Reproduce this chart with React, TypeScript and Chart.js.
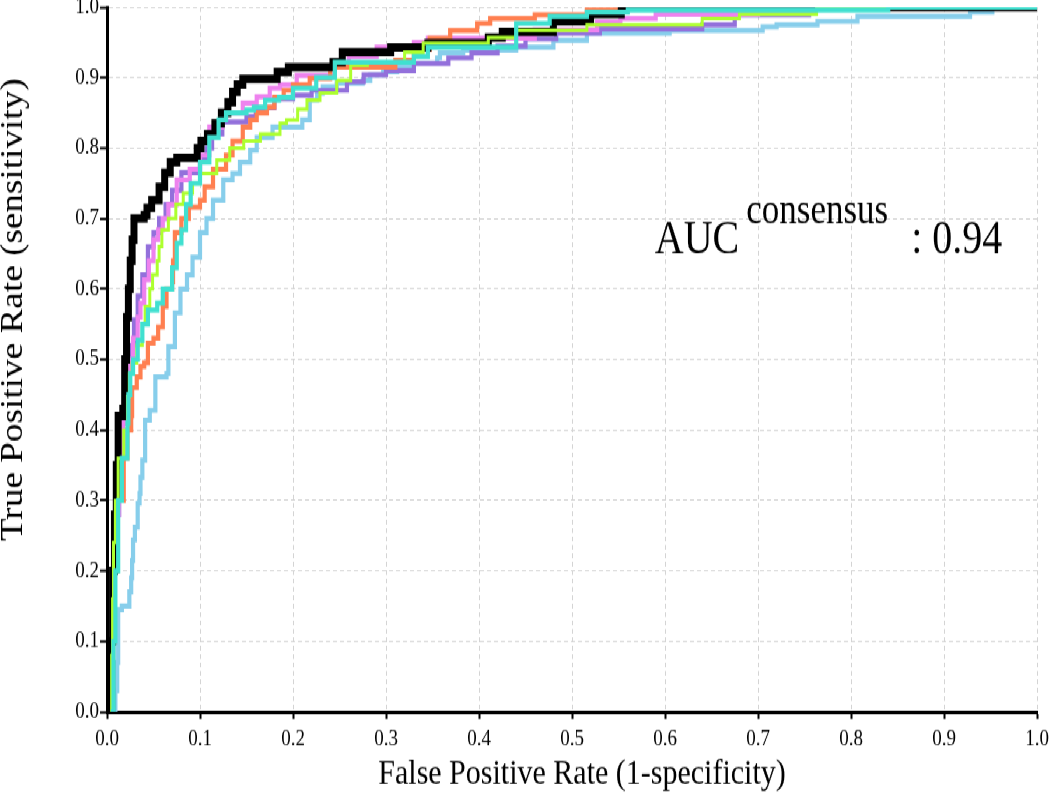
import React, { useEffect, useRef } from 'react';
import { Chart, registerables } from 'chart.js';

Chart.register(...registerables);

// ---- data (fpr, tpr) step points ----
const blackRoc: [number, number][] = [
  [0.004, 0], [0.005, 0.1], [0.006, 0.2], [0.008, 0.28], [0.01, 0.35], [0.012, 0.42], [0.017, 0.43],
  [0.019, 0.5], [0.021, 0.56], [0.023, 0.6], [0.025, 0.64], [0.027, 0.67], [0.029, 0.7], [0.04, 0.705],
  [0.043, 0.715], [0.048, 0.726], [0.056, 0.745], [0.062, 0.765], [0.068, 0.78], [0.075, 0.786],
  [0.097, 0.8], [0.101, 0.81], [0.108, 0.82], [0.116, 0.835], [0.123, 0.85], [0.13, 0.865], [0.135, 0.88],
  [0.14, 0.89], [0.146, 0.898], [0.183, 0.908], [0.195, 0.915], [0.243, 0.922], [0.253, 0.936],
  [0.305, 0.943], [0.345, 0.949], [0.41, 0.957], [0.425, 0.965], [0.48, 0.98], [0.52, 0.99],
  [0.553, 1.0], [1.0, 1.0],
];

const violetRoc: [number, number][] = [
  [0.004, 0], [0.006, 0.1], [0.008, 0.2], [0.01, 0.28], [0.013, 0.35], [0.017, 0.41], [0.021, 0.45],
  [0.023, 0.485], [0.025, 0.5], [0.028, 0.53], [0.033, 0.56], [0.036, 0.58], [0.04, 0.613], [0.045, 0.64],
  [0.05, 0.67], [0.055, 0.684], [0.06, 0.7], [0.066, 0.72], [0.075, 0.755], [0.089, 0.77], [0.1, 0.79],
  [0.11, 0.83], [0.124, 0.85], [0.146, 0.864], [0.161, 0.873], [0.175, 0.885], [0.186, 0.89],
  [0.204, 0.903], [0.245, 0.915], [0.26, 0.93], [0.29, 0.943], [0.33, 0.95], [0.345, 0.956],
  [0.46, 0.968], [0.527, 0.979], [0.552, 0.984], [0.59, 0.99], [0.7, 0.993], [0.76, 1.0], [1.0, 1.0],
];

const purpleRoc: [number, number][] = [
  [0.004, 0], [0.006, 0.1], [0.008, 0.2], [0.01, 0.28], [0.013, 0.35], [0.017, 0.41], [0.021, 0.45],
  [0.023, 0.485], [0.026, 0.52], [0.029, 0.556], [0.033, 0.59], [0.038, 0.62], [0.044, 0.66], [0.05, 0.68],
  [0.056, 0.7], [0.063, 0.72], [0.07, 0.74], [0.08, 0.765], [0.1, 0.785], [0.107, 0.8], [0.113, 0.82],
  [0.124, 0.837], [0.15, 0.845], [0.16, 0.857], [0.18, 0.87], [0.2, 0.875], [0.22, 0.882], [0.258, 0.894],
  [0.276, 0.904], [0.3, 0.91], [0.33, 0.92], [0.367, 0.928], [0.392, 0.935], [0.42, 0.945], [0.45, 0.955],
  [0.483, 0.963], [0.53, 0.969], [0.64, 0.975], [0.675, 0.989], [0.755, 1.0], [1.0, 1.0],
];

const turquoiseRoc: [number, number][] = [
  [0.004, 0], [0.007, 0.1], [0.009, 0.2], [0.012, 0.3], [0.016, 0.36], [0.022, 0.41], [0.023, 0.45],
  [0.025, 0.48], [0.028, 0.5], [0.033, 0.527], [0.038, 0.55], [0.044, 0.57], [0.054, 0.58], [0.06, 0.6],
  [0.07, 0.63], [0.075, 0.665], [0.08, 0.684], [0.085, 0.72], [0.09, 0.75], [0.1, 0.78], [0.11, 0.815],
  [0.12, 0.84], [0.128, 0.85], [0.15, 0.854], [0.158, 0.858], [0.17, 0.868], [0.185, 0.872],
  [0.2, 0.885], [0.225, 0.9], [0.245, 0.922], [0.33, 0.93], [0.345, 0.943], [0.44, 0.977],
  [0.476, 0.987], [0.516, 0.993], [0.56, 0.996], [0.84, 1.0], [1.0, 1.0],
];

const coralRoc: [number, number][] = [
  [0.004, 0], [0.006, 0.1], [0.008, 0.2], [0.011, 0.3], [0.018, 0.36], [0.022, 0.4], [0.026, 0.42],
  [0.027, 0.46], [0.032, 0.475], [0.036, 0.49], [0.04, 0.495], [0.044, 0.523], [0.05, 0.53],
  [0.055, 0.546], [0.06, 0.575], [0.064, 0.6], [0.07, 0.61], [0.071, 0.64], [0.073, 0.68], [0.08, 0.7],
  [0.088, 0.716], [0.1, 0.726], [0.105, 0.745], [0.114, 0.77], [0.128, 0.79], [0.135, 0.81],
  [0.146, 0.83], [0.154, 0.84], [0.161, 0.85], [0.172, 0.858], [0.18, 0.872], [0.19, 0.882], [0.2, 0.89],
  [0.218, 0.899], [0.24, 0.915], [0.31, 0.925], [0.33, 0.94], [0.347, 0.956], [0.369, 0.967],
  [0.398, 0.977], [0.412, 0.984], [0.46, 0.989], [0.516, 0.996], [0.552, 1.0], [1.0, 1.0],
];

const greenRoc: [number, number][] = [
  [0.004, 0], [0.005, 0.08], [0.006, 0.16], [0.007, 0.24], [0.009, 0.3], [0.012, 0.36], [0.018, 0.4],
  [0.022, 0.447], [0.024, 0.48], [0.027, 0.495], [0.032, 0.52], [0.038, 0.55], [0.041, 0.575],
  [0.046, 0.6], [0.049, 0.62], [0.054, 0.64], [0.056, 0.66], [0.059, 0.684], [0.066, 0.7], [0.074, 0.72],
  [0.082, 0.736], [0.092, 0.75], [0.1, 0.764], [0.118, 0.783], [0.132, 0.8], [0.147, 0.81], [0.165, 0.82],
  [0.186, 0.835], [0.193, 0.84], [0.205, 0.855], [0.215, 0.868], [0.229, 0.878], [0.247, 0.896],
  [0.262, 0.918], [0.28, 0.922], [0.32, 0.936], [0.34, 0.949], [0.41, 0.957], [0.44, 0.967],
  [0.516, 0.975], [0.64, 0.984], [0.68, 0.99], [0.763, 1.0], [1.0, 1.0],
];

const skyRoc: [number, number][] = [
  [0.008, 0], [0.009, 0.03], [0.011, 0.07], [0.012, 0.145], [0.016, 0.15], [0.024, 0.17], [0.026, 0.19],
  [0.027, 0.215], [0.028, 0.244], [0.03, 0.262], [0.033, 0.296], [0.035, 0.31], [0.036, 0.333],
  [0.038, 0.357], [0.041, 0.414], [0.046, 0.428], [0.052, 0.475], [0.064, 0.48], [0.066, 0.518],
  [0.073, 0.566], [0.079, 0.6], [0.086, 0.62], [0.092, 0.645], [0.1, 0.68], [0.107, 0.7], [0.114, 0.726],
  [0.125, 0.755], [0.135, 0.764], [0.143, 0.78], [0.154, 0.797], [0.161, 0.815], [0.178, 0.83],
  [0.21, 0.84], [0.218, 0.868], [0.226, 0.878], [0.232, 0.887], [0.247, 0.892], [0.275, 0.896],
  [0.283, 0.904], [0.297, 0.908], [0.312, 0.915], [0.326, 0.92], [0.355, 0.928], [0.358, 0.935],
  [0.383, 0.939], [0.44, 0.943], [0.48, 0.953], [0.516, 0.963], [0.605, 0.967], [0.705, 0.972],
  [0.72, 0.975], [0.764, 0.98], [0.807, 0.987], [0.928, 0.993], [0.952, 1.0], [1.0, 1.0],
];

const tickValues = [0, 0.1, 0.2, 0.3, 0.4, 0.5, 0.6, 0.7, 0.8, 0.9, 1.0];
const xTitle = 'False Positive Rate (1-specificity)';
const yTitle = 'True Positive Rate (sensitivity)';
const aucMain = 'AUC';
const aucSup = 'consensus';
const aucValue = ' : 0.94';
const aucPos = { fpr: 0.589, tpr: 0.651 };

// first entry is drawn on top
const seriesList = [
  { label: 'm5', data: turquoiseRoc, color: '#40E0D0', width: 4.2 },
  { label: 'm6', data: greenRoc, color: '#ADFF2F', width: 3 },
  { label: 'consensus', data: blackRoc, color: '#000000', width: 7 },
  { label: 'm4', data: coralRoc, color: '#FF7F50', width: 4.2 },
  { label: 'm3', data: violetRoc, color: '#EE82EE', width: 4.2 },
  { label: 'm2', data: purpleRoc, color: '#9370DB', width: 4.2 },
  { label: 'm1', data: skyRoc, color: '#87CEEB', width: 4.2 },
];

const W = 1050;
const H = 664;
const STRETCH = 797 / H;
const SERIF = '"Liberation Serif", "Times New Roman", serif';

const textPlugin = {
  id: 'textLayer',
  afterDraw(chart: any) {
    const { ctx, scales, chartArea } = chart;
    const x = scales.x;
    const y = scales.y;
    ctx.save();
    ctx.fillStyle = '#000';

    // axis titles
    ctx.textAlign = 'center';
    ctx.textBaseline = 'middle';
    ctx.font = `30px ${SERIF}`;
    ctx.fillText(xTitle, (chartArea.left + chartArea.right) / 2 + 10, H - 19);
    ctx.save();
    ctx.translate(13.5, 258);
    ctx.rotate(-Math.PI / 2);
    ctx.font = `31px ${SERIF}`;
    ctx.fillText(yTitle, 0, 0);
    ctx.restore();

    // AUC annotation
    ctx.textBaseline = 'alphabetic';
    ctx.textAlign = 'left';
    let px = x.getPixelForValue(aucPos.fpr);
    const base = y.getPixelForValue(aucPos.tpr);
    ctx.font = `40px ${SERIF}`;
    ctx.fillText(aucMain, px, base);
    px += ctx.measureText(aucMain).width + 7;
    ctx.font = `35px ${SERIF}`;
    ctx.fillText(aucSup, px, base - 25);
    px += ctx.measureText(aucSup).width + 13;
    ctx.font = `40px ${SERIF}`;
    ctx.fillText(aucValue, px, base);
    ctx.restore();
  },
};

function axisCommon(tickLen: number, tickPad: number, fixedSize: number, horizontal: boolean) {
  return {
    type: 'linear' as const,
    min: 0,
    max: 1,
    afterBuildTicks: (scale: any) => {
      scale.ticks = tickValues.map((v) => ({ value: v }));
    },
    afterFit: (scale: any) => {
      if (horizontal) {
        scale.height = fixedSize;
      } else {
        scale.width = fixedSize;
      }
      scale.paddingTop = 0;
      scale.paddingBottom = 0;
      scale.paddingLeft = 0;
      scale.paddingRight = 0;
    },
    ticks: {
      autoSkip: false,
      maxRotation: 0,
      minRotation: 0,
      padding: tickPad,
      color: '#000',
      font: { family: SERIF, size: 19 },
      callback: (v: any) => Number(v).toFixed(1),
    },
    grid: {
      color: '#d4d4d4',
      lineWidth: 1,
      drawTicks: true,
      tickLength: tickLen,
      tickColor: '#000',
      tickWidth: 2,
      tickBorderDash: [],
    },
    border: {
      display: true,
      color: '#000',
      width: 3,
      dash: [4, 3],
    },
    title: { display: false },
  };
}

export default function App() {
  const canvasRef = useRef<HTMLCanvasElement | null>(null);

  useEffect(() => {
    document.body.style.margin = '0';
    const canvas = canvasRef.current;
    if (!canvas) return;
    const chart = new Chart(canvas, {
      type: 'line',
      data: {
        datasets: seriesList.map((s) => ({
          label: s.label,
          data: s.data.map(([fx, ty]) => ({ x: fx, y: ty })),
          borderColor: s.color,
          backgroundColor: s.color,
          borderWidth: s.width,
          stepped: 'before' as const,
          pointRadius: 0,
          fill: false,
          clip: { left: 4, right: 4, top: 0, bottom: 0 },
          borderJoinStyle: 'miter' as const,
          borderCapStyle: 'butt' as const,
        })),
      },
      options: {
        responsive: false,
        animation: false,
        devicePixelRatio: 1,
        parsing: false as any,
        layout: { padding: { top: 6, right: 13, left: 0, bottom: 0 } },
        plugins: {
          legend: { display: false },
          tooltip: { enabled: false },
        },
        scales: {
          x: axisCommon(6, 6, H - 593, true) as any,
          y: axisCommon(7, 1, 107, false) as any,
        },
      },
      plugins: [textPlugin],
    });
    return () => chart.destroy();
  }, []);

  return (
    <div
      style={{
        position: 'fixed',
        left: 0,
        top: 0,
        width: W,
        height: H,
        transform: `scaleY(${STRETCH})`,
        transformOrigin: '0 0',
        background: '#fff',
      }}
    >
      <canvas ref={canvasRef} width={W} height={H} style={{ width: W, height: H, display: 'block' }} />
    </div>
  );
}
